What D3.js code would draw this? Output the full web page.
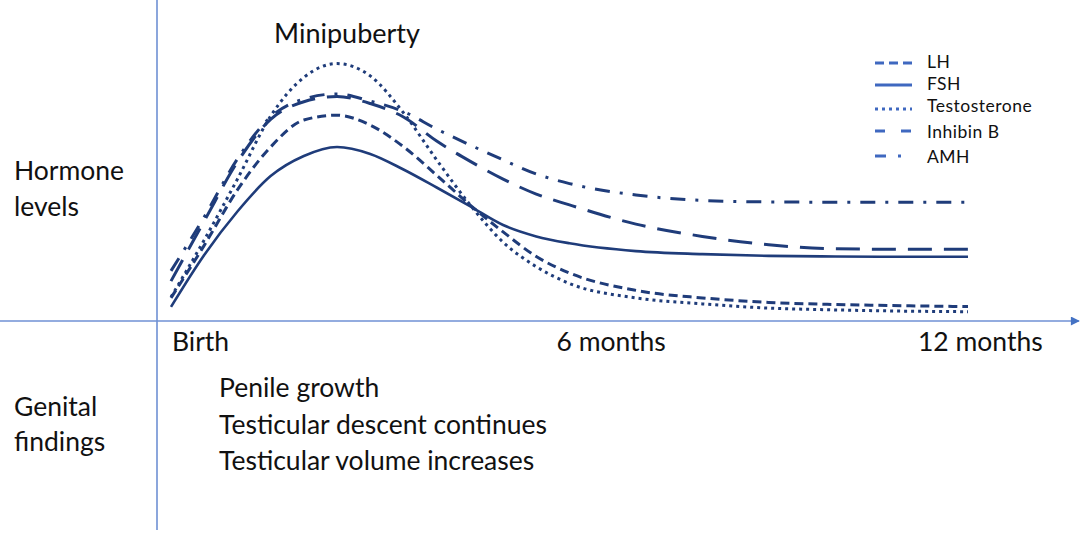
<!DOCTYPE html>
<html>
<head>
<meta charset="utf-8">
<script src="https://cdn.jsdelivr.net/npm/d3@7"></script>
<style>
  body { margin: 0; background: #fff; }
  svg text { font-family: Lato, "Open Sans", sans-serif; fill: #111; }
</style>
</head>
<body>
<div id="main"></div>
<script>
// months after birth (x values shared by every curve)
const months = [0, 0.5, 1, 1.5, 2, 2.5, 3, 3.5, 4, 4.5, 5, 5.5, 6, 7, 8, 9, 10, 11, 12];

// hormone levels, arbitrary units
const lh = [7.7, 25.2, 43.7, 58, 67, 68.6, 65.3, 58.1, 48.6, 38.7, 29.7, 21.5, 16, 10.2, 7.7, 6.2, 5.5, 5.1, 4.8];
const fsh = [4.7, 22, 36.5, 48.3, 55, 58, 55.7, 50.5, 44.5, 38.3, 32, 28.2, 25.9, 23.3, 22.3, 21.7, 21.5, 21.4, 21.4];
const testosterone = [8, 27, 47.3, 68.3, 81.2, 85.8, 81.7, 69.4, 53.7, 38.8, 26.3, 18.1, 12.5, 7.7, 5.7, 4.3, 3.7, 3.3, 3.1];
const inhibinB = [13.3, 33.3, 53, 67.2, 73.1, 74.8, 72.5, 68, 60, 53.3, 47.3, 42.3, 38.7, 32.3, 28.2, 25.4, 24.1, 23.9, 23.9];
const amh = [16.7, 34.7, 54, 68, 74, 75.7, 73.3, 69.8, 64, 58.7, 53.7, 49, 45.8, 42, 40.2, 39.7, 39.6, 39.6, 39.6];

const seriesNames = ['LH', 'FSH', 'Testosterone', 'Inhibin B', 'AMH'];
const seriesValues = [lh, fsh, testosterone, inhibinB, amh];

const tickMonths = [0, 6, 12];
const tickLabels = ['Birth', '6 months', '12 months'];

const findings = ['Penile growth', 'Testicular descent continues', 'Testicular volume increases'];

// styles
const curveColor = '#1f3c7a';
const legendColor = '#3f68c0';
const axisColor = '#6f90d4';
const curveDash = ['9,5', null, '3,4', '24,12', '15,10,3,10'];
const legendDash = ['9,5', null, '3,4', '10,16', '11,12,3,20'];

const W = 1084, H = 535;
const axisX = 157, axisY = 321;

const svg = d3.select('#main')
    .append('svg')
    .attr('width', W)
    .attr('height', H)
    .style('background-color', '#fff');

// scales
const xScale = d3.scaleLinear()
    .domain([0, 12])
    .range([171, 968]);

const yScale = d3.scaleLinear()
    .domain([0, 100])
    .range([axisY, 21]);

// axes lines
svg.append('defs').append('marker')
    .attr('id', 'arrow')
    .attr('viewBox', '0 0 10 10')
    .attr('refX', 9)
    .attr('refY', 5)
    .attr('markerWidth', 11)
    .attr('markerHeight', 9)
    .attr('markerUnits', 'userSpaceOnUse')
    .attr('orient', 'auto')
    .append('path')
    .attr('d', 'M0,0 L10,5 L0,10 Z')
    .attr('fill', '#4472c4');

svg.append('line')
    .attr('x1', axisX).attr('x2', axisX)
    .attr('y1', 0).attr('y2', 530)
    .attr('stroke', axisColor)
    .attr('stroke-width', 1.6);

svg.append('line')
    .attr('x1', 0).attr('x2', 1079)
    .attr('y1', axisY).attr('y2', axisY)
    .attr('stroke', axisColor)
    .attr('stroke-width', 1.6)
    .attr('marker-end', 'url(#arrow)');

// curves
const line = d3.line()
    .x((d, i) => xScale(months[i]))
    .y((d) => yScale(d))
    .curve(d3.curveMonotoneX);

svg.selectAll('path.curve')
    .data(seriesValues)
    .enter()
    .append('path')
    .attr('class', 'curve')
    .attr('d', line)
    .attr('fill', 'none')
    .attr('stroke', curveColor)
    .attr('stroke-width', (d, i) => i == 1 ? 2.6 : 3)
    .attr('stroke-dasharray', (d, i) => curveDash[i]);

// x labels
const tickNudge = [1, -13, -50];
svg.selectAll('text.tick')
    .data(tickMonths)
    .enter()
    .append('text')
    .attr('class', 'tick')
    .attr('x', (d, i) => xScale(d) + tickNudge[i])
    .attr('y', 351)
    .style('font-size', '26.5px')
    .text((d, i) => tickLabels[i]);

// title and row labels
svg.append('text')
    .attr('x', 347).attr('y', 43)
    .attr('text-anchor', 'middle')
    .style('font-size', '27px')
    .text('Minipuberty');

const rowLabels = [['Hormone', 180], ['levels', 216], ['Genital', 416], ['findings', 451]];
svg.selectAll('text.row')
    .data(rowLabels)
    .enter()
    .append('text')
    .attr('class', 'row')
    .attr('x', 14)
    .attr('y', (d) => d[1])
    .style('font-size', '26.5px')
    .text((d) => d[0]);

svg.selectAll('text.finding')
    .data(findings)
    .enter()
    .append('text')
    .attr('class', 'finding')
    .attr('x', 219)
    .attr('y', (d, i) => 397 + i * 36.5)
    .style('font-size', '26.5px')
    .text((d) => d);

// legend
const legendY = [63, 85, 109, 131, 156];
const legend = svg.append('g');

legend.selectAll('line')
    .data(seriesNames)
    .enter()
    .append('line')
    .attr('x1', 875).attr('x2', 912)
    .attr('y1', (d, i) => legendY[i])
    .attr('y2', (d, i) => legendY[i])
    .attr('stroke', legendColor)
    .attr('stroke-width', 3)
    .attr('stroke-dasharray', (d, i) => legendDash[i]);

const legendTextY = [68, 90, 112, 138, 163];
legend.selectAll('text')
    .data(seriesNames)
    .enter()
    .append('text')
    .attr('x', 927)
    .attr('y', (d, i) => legendTextY[i])
    .style('font-size', '17.5px')
    .style('letter-spacing', '0.5px')
    .text((d) => d);
</script>
</body>
</html>
